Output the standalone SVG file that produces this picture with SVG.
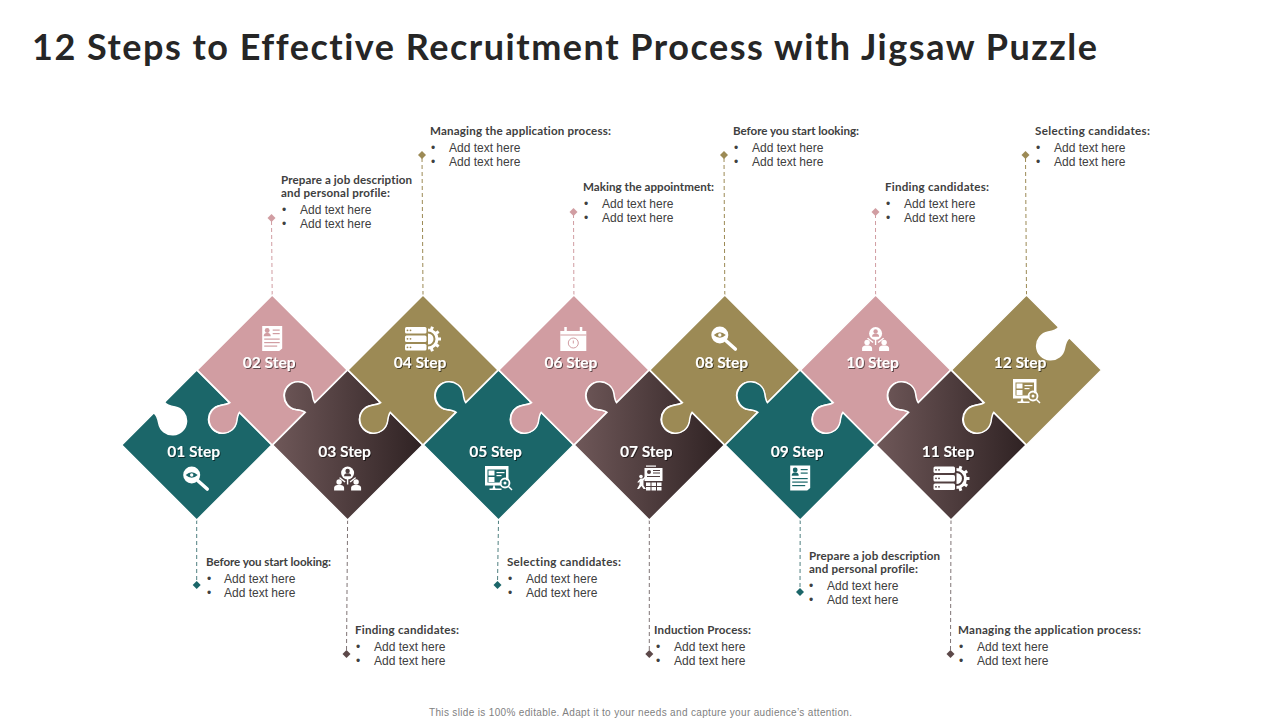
<svg xmlns="http://www.w3.org/2000/svg" width="1280" height="720" viewBox="0 0 1280 720">
<style>
text{font-family:"Liberation Sans",Arial,sans-serif;font-variant-ligatures:none}
.title{font-family:Lato,"Liberation Sans",sans-serif;font-size:36px;font-weight:700;fill:#262626}
.foot{font-size:10px;fill:#7f7f7f}
.lab{font-family:Lato,"Liberation Sans",sans-serif;font-size:15.5px;font-weight:700;fill:#fff;text-anchor:middle;filter:url(#sh)}
.hd{font-family:Lato,"Liberation Sans",sans-serif;font-size:11.6px;font-weight:700;fill:#404040}
.it{font-size:12px;fill:#404040}
.piece{stroke:#fff;stroke-width:1.5;stroke-linejoin:miter}
.teal{fill:#1b6669;color:#1b6669}
.pink{fill:#d19da2;color:#d19da2}
.olive{fill:#9c8a55;color:#9c8a55}
.dark{fill:url(#dg);color:#4f3e3f}
.ico{fill:#fff}
.con{fill:none;stroke-width:1;stroke-dasharray:4 3}
</style>
<defs>
<linearGradient id="dg" x1="0" y1="0" x2="1" y2="0"><stop offset="0" stop-color="#6f5859"/><stop offset="1" stop-color="#2f2223"/></linearGradient>
<filter id="sh" x="-20%" y="-30%" width="140%" height="170%"><feDropShadow dx="1" dy="1" stdDeviation="0.6" flood-color="#000" flood-opacity="0.55"/></filter>
<marker id="m-teal" viewBox="-5 -5 10 10" markerWidth="10" markerHeight="10" markerUnits="userSpaceOnUse"><path d="M0-4L4 0 0 4-4 0Z" fill="#1b6669"/></marker>
<marker id="m-pink" viewBox="-5 -5 10 10" markerWidth="10" markerHeight="10" markerUnits="userSpaceOnUse"><path d="M0-4L4 0 0 4-4 0Z" fill="#d19da2"/></marker>
<marker id="m-olive" viewBox="-5 -5 10 10" markerWidth="10" markerHeight="10" markerUnits="userSpaceOnUse"><path d="M0-4L4 0 0 4-4 0Z" fill="#9c8a55"/></marker>
<marker id="m-dark" viewBox="-5 -5 10 10" markerWidth="10" markerHeight="10" markerUnits="userSpaceOnUse"><path d="M0-4L4 0 0 4-4 0Z" fill="#5c4849"/></marker>
<path id="pb" d="M-75,0L-42.31,-32.69Q-44.71,-34.53 -51.67,-35.45A14 14 0 1 1 -35.45,-51.67Q-34.53,-44.71 -32.69,-42.31L0,-75L32.69,-42.31Q30.29,-40.47 23.33,-39.55A14 14 0 1 0 39.55,-23.33Q40.47,-30.29 42.31,-32.69L75,0L0,75Z"/>
<path id="pt" d="M-75,0L-42.31,32.69Q-44.71,34.53 -51.67,35.45A14 14 0 1 0 -35.45,51.67Q-34.53,44.71 -32.69,42.31L0,75L32.69,42.31Q30.29,40.47 23.33,39.55A14 14 0 1 1 39.55,23.33Q40.47,30.29 42.31,32.69L75,0L0,-75Z"/>
<path id="p1" d="M-75,0L-42.8,-32.2Q-39.41,-29.93 -37.92,-21.66A14 14 0 1 0 -21.66,-37.92Q-29.93,-39.41 -32.2,-42.8L0,-75L32.69,-42.31Q30.29,-40.47 23.33,-39.55A14 14 0 1 0 39.55,-23.33Q40.47,-30.29 42.31,-32.69L75,0L0,75Z"/>
<path id="p12" d="M-75,0L-42.31,32.69Q-44.71,34.53 -51.67,35.45A14 14 0 1 0 -35.45,51.67Q-34.53,44.71 -32.69,42.31L0,75L75,0L42.8,-32.2Q39.41,-29.93 37.92,-21.66A14 14 0 1 1 21.66,-37.92Q29.93,-39.41 32.2,-42.8L0,-75Z"/>
<g id="i-doc"><path class="ico" d="M-10-12.5H10V10L7 12.5H-10Z"/><g fill="currentColor"><circle cx="-5" cy="-8" r="2.4"/><path d="M-8.5-2.2C-8.5-5-6.5-5.5-5-5.5S-1.500-5-1.500-2.200Z"/><rect x="0.500" y="-9" width="7" height="1.200"/><rect x="0.500" y="-5.500" width="7" height="1.200"/><rect x="-8" y="0" width="15.500" height="1.200"/><rect x="-8" y="3.500" width="15.500" height="1.200"/><rect x="-8" y="7" width="13" height="1.200"/></g></g>
<g id="i-mag"><circle class="ico" cx="-5" cy="-3.500" r="8.500"/><path d="M1.500 2.500L10.500 10.500" stroke="#fff" stroke-width="3.600" stroke-linecap="round" fill="none"/><path d="M-11-3.500Q-5-9 1-3.500Q-5 2-11-3.500Z" fill="currentColor"/><circle class="ico" cx="-5" cy="-3.500" r="1.700"/></g>
<g id="i-ppl"><circle class="ico" cx="0" cy="-5.500" r="6.500"/><circle cx="0" cy="-7.500" r="2.200" fill="currentColor"/><path d="M-3.500-2.300C-3.500-5-1.500-5.200 0-5.200S3.500-5 3.500-2.300Z" fill="currentColor"/><path d="M-.7 0H.7V6H-.7ZM-8.600-.5L-7.500-1.300-2 3-3 4Z" class="ico"/><path d="M8.600-.5L7.500-1.300 2 3 3 4Z" class="ico"/><g class="ico"><circle cx="-8.500" cy="3.500" r="2.700"/><path d="M-13.500 12V9.500C-13.500 7-11 6.500-8.500 6.500S-3.500 7-3.500 9.500V12Z"/><circle cx="8.500" cy="3.500" r="2.700"/><path d="M3.500 12V9.500C3.500 7 6 6.500 8.500 6.500S13.500 7 13.500 9.500V12Z"/></g></g>
<g id="i-srv"><g class="ico"><rect x="-17.500" y="-11.500" width="21.500" height="6.500" rx="1.500"/><rect x="-17.500" y="-3" width="21.500" height="6.500" rx="1.500"/><rect x="-17.500" y="5.500" width="21.500" height="6.500" rx="1.500"/><path d="M5.500-5A5.500 5.500 0 0 1 5.500 6Z"/></g><path d="M5.500-8.500A9 9 0 0 1 5.500 9.500" fill="none" stroke="#fff" stroke-width="3"/><path d="M8.600-8L9.950-11.700M12.900-4.700L16.150-7M14.500.5H18.500M12.900 5.700L16.150 8M8.600 9L9.950 12.700" fill="none" stroke="#fff" stroke-width="3"/><g fill="currentColor"><circle cx="-15" cy="-8.200" r=".9"/><circle cx="-12" cy="-8.200" r=".9"/><circle cx="-15" cy=".3" r=".9"/><circle cx="-12" cy=".3" r=".9"/><circle cx="-15" cy="8.800" r=".9"/><circle cx="-12" cy="8.800" r=".9"/></g></g>
<g id="i-cal"><path class="ico" d="M-13-8H-9V-12H-6.500V-8H6.500V-12H9V-8H13V12H-13Z"/><rect x="-13" y="-4.500" width="26" height="1" fill="currentColor"/><circle cx="0" cy="4" r="5" fill="none" stroke="currentColor" stroke-width="1"/><path d="M0 1.500V4.500" stroke="currentColor" stroke-width="1"/></g>
<g id="i-mon"><path class="ico" d="M-13.500-12H10V2.500A6.500 6.500 0 0 0 2 7.500H-4L-3 10.500H3V12H-9V10.500H-6L-5 7.500H-13.500Z"/><g fill="currentColor"><rect x="-11" y="-8.500" width="18.500" height="13"/></g><g class="ico"><rect x="-10" y="-7.500" width="6" height="5"/><rect x="-10" y="-1" width="6" height="5"/><rect x="-2" y="-6" width="8" height="1.200"/><rect x="-2" y="-3" width="5" height="1.200"/></g><circle cx="6.500" cy="5" r="4.500" fill="none" stroke="#fff" stroke-width="1.800"/><circle class="ico" cx="6.500" cy="5" r="1.500"/><path d="M10 8.500L13.500 12" stroke="#fff" stroke-width="1.500"/></g>
<g id="i-trn"><g class="ico"><rect x="-4" y="-12.500" width="10" height="1.200"/><rect x="-5.500" y="-10" width="18" height="13"/><rect x="-4" y="4.500" width="4.500" height="3.500"/><rect x="1.500" y="4.500" width="4.500" height="3.500"/><rect x="7" y="4.500" width="4.500" height="3.500"/><rect x="-4" y="9" width="4.500" height="3.500"/><rect x="1.500" y="9" width="4.500" height="3.500"/><rect x="7" y="9" width="4.500" height="3.500"/><circle cx="-9" cy="-1.500" r="1.800"/><path d="M-12.500 4L-9.500 .5H-7L-4.500-2-3.500-1-6.500 2.500V7.500L-4 11H-6.500L-8.500 8-11 11H-13L-10.500 6.500V3.500L-12 5Z"/></g><g fill="currentColor"><circle cx="-1" cy="-6" r="2"/><rect x="3" y="-8" width="7" height="1"/><rect x="3" y="-5.500" width="7" height="1"/><rect x="-3" y="-2" width="13" height="1"/></g></g>
</defs>
<rect width="1280" height="720" fill="#fff"/>
<text class="title" x="32" y="60" textLength="1065">12 Steps to Effective Recruitment Process with Jigsaw Puzzle</text>
<g id="connectors" class="con">
<line x1="196.700" y1="520" x2="196.700" y2="585" stroke="#4f7f80" marker-end="url(#m-teal)"/>
<line x1="347.600" y1="520" x2="346.500" y2="654" stroke="#7f7475" marker-end="url(#m-dark)"/>
<line x1="498.500" y1="520" x2="497.500" y2="585" stroke="#4f7f80" marker-end="url(#m-teal)"/>
<line x1="649.300" y1="520" x2="649.300" y2="654" stroke="#7f7475" marker-end="url(#m-dark)"/>
<line x1="800.200" y1="520" x2="800" y2="592" stroke="#4f7f80" marker-end="url(#m-teal)"/>
<line x1="951" y1="520" x2="950.500" y2="654" stroke="#7f7475" marker-end="url(#m-dark)"/>
<line x1="272.200" y1="295" x2="271.500" y2="218" stroke="#d19da2" marker-end="url(#m-pink)"/>
<line x1="423" y1="295" x2="422" y2="155" stroke="#9c8a55" marker-end="url(#m-olive)"/>
<line x1="573.900" y1="295" x2="573.500" y2="212" stroke="#d19da2" marker-end="url(#m-pink)"/>
<line x1="724.800" y1="295" x2="724" y2="155" stroke="#9c8a55" marker-end="url(#m-olive)"/>
<line x1="875.600" y1="295" x2="875.500" y2="212" stroke="#d19da2" marker-end="url(#m-pink)"/>
<line x1="1026.500" y1="295" x2="1025.500" y2="155" stroke="#9c8a55" marker-end="url(#m-olive)"/>
</g>
<g id="step-01" class="teal"><use href="#p1" class="piece" transform="translate(196.700,445)"/><use href="#i-mag" transform="translate(196.700,478.500)"/><text class="lab" x="193.700" y="457">01 Step</text><text class="hd" x="206" y="566" textLength="125">Before you start looking:</text><text class="it" x="207" y="583">•</text><text class="it" x="224" y="583">Add text here</text><text class="it" x="207" y="597">•</text><text class="it" x="224" y="597">Add text here</text></g>
<g id="step-02" class="pink"><use href="#pt" class="piece" transform="translate(272.200,370)"/><use href="#i-doc" transform="translate(272.200,338.500)"/><text class="lab" x="269.200" y="368">02 Step</text><text class="hd" x="281" y="184" textLength="131">Prepare a job description</text><text class="hd" x="281" y="197" textLength="109">and personal profile:</text><text class="it" x="282" y="214">•</text><text class="it" x="300" y="214">Add text here</text><text class="it" x="282" y="228">•</text><text class="it" x="300" y="228">Add text here</text></g>
<g id="step-03" class="dark"><use href="#pb" class="piece" transform="translate(347.600,445)"/><use href="#i-ppl" transform="translate(347.600,478.500)"/><text class="lab" x="344.600" y="457">03 Step</text><text class="hd" x="355" y="634" textLength="104">Finding candidates:</text><text class="it" x="356" y="651">•</text><text class="it" x="374" y="651">Add text here</text><text class="it" x="356" y="665">•</text><text class="it" x="374" y="665">Add text here</text></g>
<g id="step-04" class="olive"><use href="#pt" class="piece" transform="translate(423,370)"/><use href="#i-srv" transform="translate(422.500,338.500)"/><text class="lab" x="420" y="368">04 Step</text><text class="hd" x="430" y="135" textLength="181">Managing the application process:</text><text class="it" x="431" y="152">•</text><text class="it" x="449" y="152">Add text here</text><text class="it" x="431" y="166">•</text><text class="it" x="449" y="166">Add text here</text></g>
<g id="step-05" class="teal"><use href="#pb" class="piece" transform="translate(498.500,445)"/><use href="#i-mon" transform="translate(498.500,478)"/><text class="lab" x="495.500" y="457">05 Step</text><text class="hd" x="507" y="566" textLength="114">Selecting candidates:</text><text class="it" x="508" y="583">•</text><text class="it" x="526" y="583">Add text here</text><text class="it" x="508" y="597">•</text><text class="it" x="526" y="597">Add text here</text></g>
<g id="step-06" class="pink"><use href="#pt" class="piece" transform="translate(573.900,370)"/><use href="#i-cal" transform="translate(573.300,339)"/><text class="lab" x="570.900" y="368">06 Step</text><text class="hd" x="583" y="191" textLength="131">Making the appointment:</text><text class="it" x="584" y="208">•</text><text class="it" x="602" y="208">Add text here</text><text class="it" x="584" y="222">•</text><text class="it" x="602" y="222">Add text here</text></g>
<g id="step-07" class="dark"><use href="#pb" class="piece" transform="translate(649.300,445)"/><use href="#i-trn" transform="translate(650,478)"/><text class="lab" x="646.300" y="457">07 Step</text><text class="hd" x="654" y="634" textLength="97">Induction Process:</text><text class="it" x="656" y="651">•</text><text class="it" x="674" y="651">Add text here</text><text class="it" x="656" y="665">•</text><text class="it" x="674" y="665">Add text here</text></g>
<g id="step-08" class="olive"><use href="#pt" class="piece" transform="translate(724.800,370)"/><use href="#i-mag" transform="translate(724.800,338.500)"/><text class="lab" x="721.800" y="368">08 Step</text><text class="hd" x="733" y="135" textLength="126">Before you start looking:</text><text class="it" x="734" y="152">•</text><text class="it" x="752" y="152">Add text here</text><text class="it" x="734" y="166">•</text><text class="it" x="752" y="166">Add text here</text></g>
<g id="step-09" class="teal"><use href="#pb" class="piece" transform="translate(800.200,445)"/><use href="#i-doc" transform="translate(800.200,478)"/><text class="lab" x="797.200" y="457">09 Step</text><text class="hd" x="809" y="560" textLength="131">Prepare a job description</text><text class="hd" x="809" y="573" textLength="109">and personal profile:</text><text class="it" x="809" y="590">•</text><text class="it" x="827" y="590">Add text here</text><text class="it" x="809" y="604">•</text><text class="it" x="827" y="604">Add text here</text></g>
<g id="step-10" class="pink"><use href="#pt" class="piece" transform="translate(875.600,370)"/><use href="#i-ppl" transform="translate(875.600,339)"/><text class="lab" x="872.600" y="368">10 Step</text><text class="hd" x="885" y="191" textLength="104">Finding candidates:</text><text class="it" x="886" y="208">•</text><text class="it" x="904" y="208">Add text here</text><text class="it" x="886" y="222">•</text><text class="it" x="904" y="222">Add text here</text></g>
<g id="step-11" class="dark"><use href="#pb" class="piece" transform="translate(951,445)"/><use href="#i-srv" transform="translate(951,478)"/><text class="lab" x="948" y="457">11 Step</text><text class="hd" x="958" y="634" textLength="183">Managing the application process:</text><text class="it" x="959" y="651">•</text><text class="it" x="977" y="651">Add text here</text><text class="it" x="959" y="665">•</text><text class="it" x="977" y="665">Add text here</text></g>
<g id="step-12" class="olive"><use href="#p12" class="piece" transform="translate(1026.500,370)"/><use href="#i-mon" transform="translate(1026.500,391)"/><text class="lab" x="1020" y="368">12 Step</text><text class="hd" x="1035" y="135" textLength="115">Selecting candidates:</text><text class="it" x="1036" y="152">•</text><text class="it" x="1054" y="152">Add text here</text><text class="it" x="1036" y="166">•</text><text class="it" x="1054" y="166">Add text here</text></g>
<text class="foot" x="429" y="716" textLength="423">This slide is 100% editable. Adapt it to your needs and capture your audience’s attention.</text>
</svg>
